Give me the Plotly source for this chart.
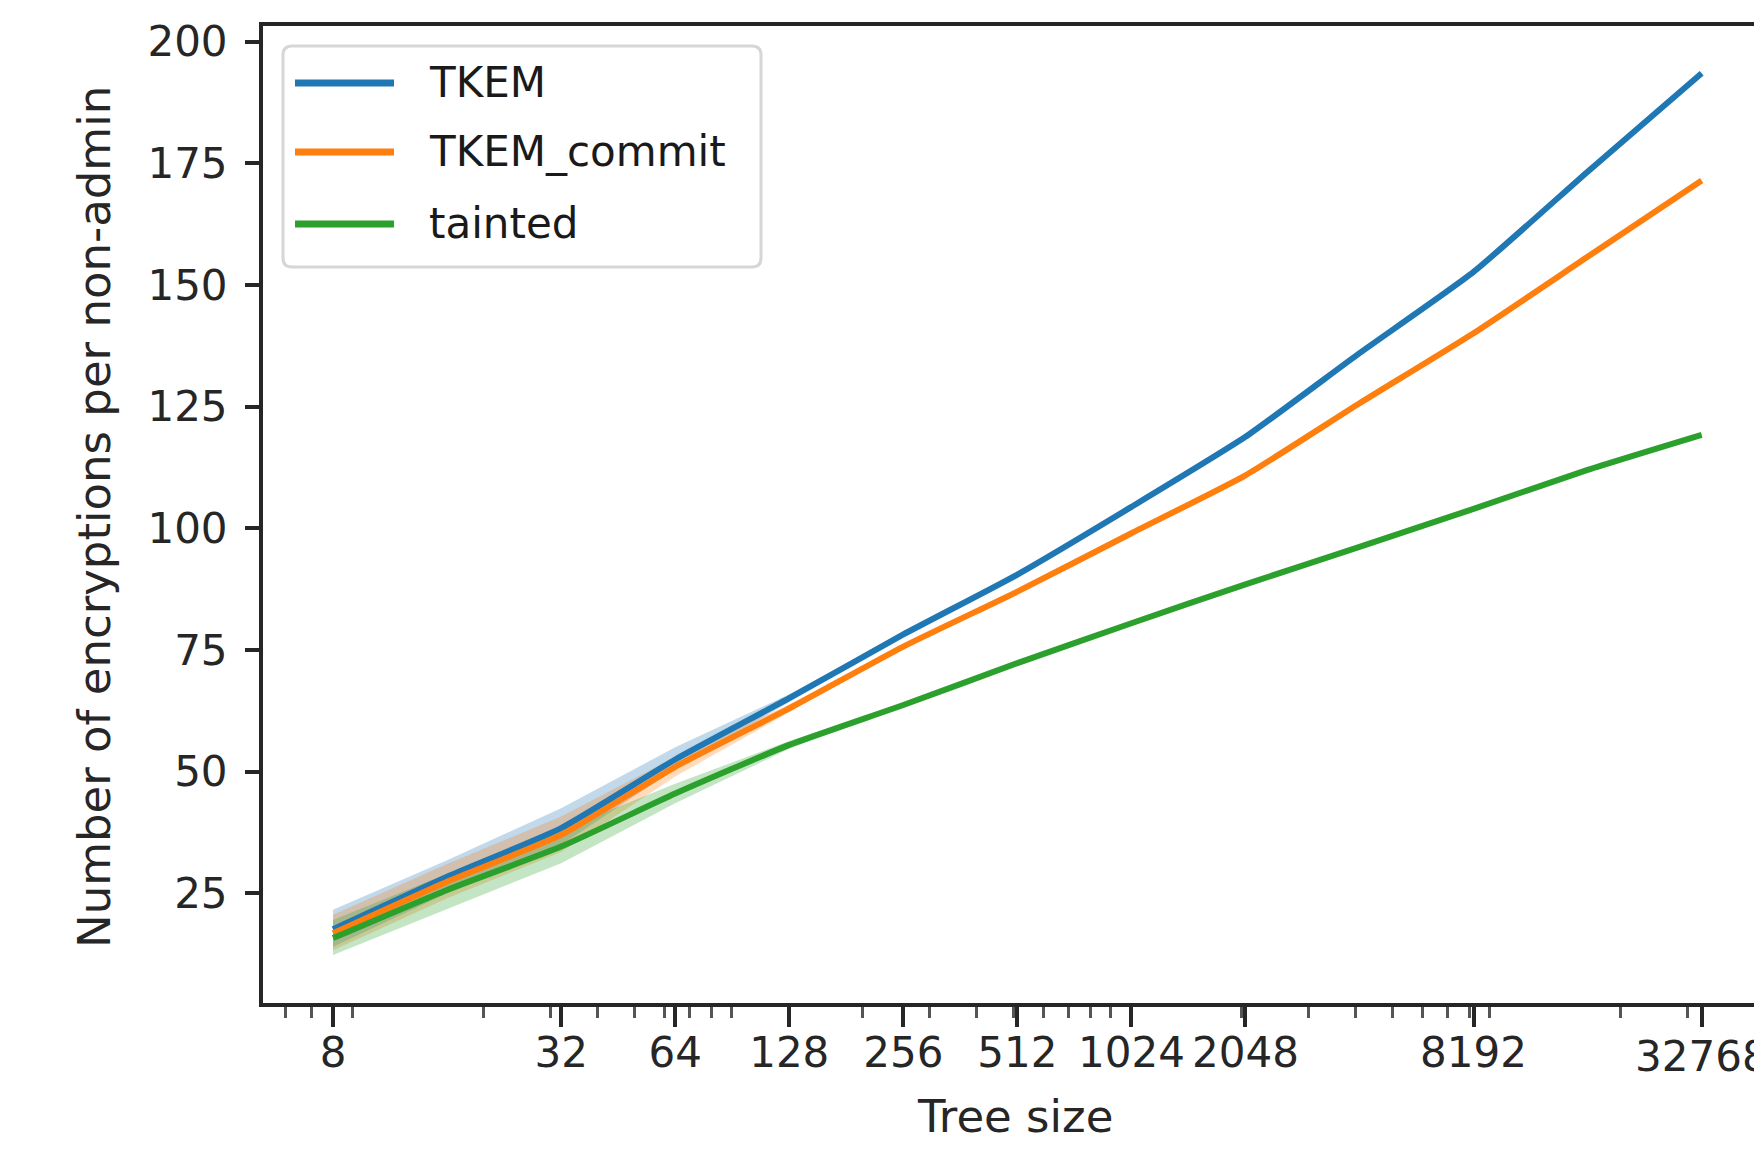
import math
import plotly.graph_objects as go

# ---------------- data ----------------
tree_sizes = [8, 16, 32, 64, 128, 256, 512, 1024, 2048, 4096, 8192, 16384, 32768]

series_names = ["TKEM", "TKEM_commit", "tainted"]

tkem = [17.6, 28.4, 38.4, 52.5, 65.1, 78.2, 90.5, 104.4, 118.8, 136.0, 152.7, 173.3, 193.5]
tkem_lo = [14.0, 25.0, 35.0, 50.5, 64.3, 77.9, 90.2, 104.2, 118.6, 135.8, 152.5, 173.1, 193.3]
tkem_hi = [21.6, 31.8, 42.5, 55.0, 65.9, 78.5, 90.8, 104.6, 119.0, 136.2, 152.9, 173.5, 193.7]

tkem_commit = [16.8, 27.4, 37.0, 51.0, 63.0, 75.7, 87.0, 99.0, 110.9, 125.7, 140.1, 155.8, 171.5]
tkem_commit_lo = [13.3, 24.0, 33.5, 49.0, 62.2, 75.4, 86.7, 98.8, 110.7, 125.5, 139.9, 155.6, 171.3]
tkem_commit_hi = [20.6, 31.0, 40.8, 53.0, 63.8, 76.0, 87.3, 99.2, 111.1, 125.9, 140.3, 156.0, 171.7]

tainted = [15.8, 25.7, 34.6, 45.5, 55.5, 63.7, 72.3, 80.5, 88.5, 96.2, 104.0, 112.0, 119.2]
tainted_lo = [12.3, 21.8, 31.2, 43.5, 54.7, 63.4, 72.0, 80.3, 88.3, 96.0, 103.8, 111.8, 119.0]
tainted_hi = [19.5, 29.0, 38.0, 47.5, 56.3, 64.0, 72.6, 80.7, 88.7, 96.4, 104.2, 112.2, 119.4]

x_tick_values = [8, 32, 64, 128, 256, 512, 1024, 2048, 8192, 32768]
x_minor_values = [6, 7, 9, 20, 30, 40, 50, 60, 70, 80, 90,
                  200, 300, 400, 500, 600, 700, 800, 900,
                  2000, 3000, 4000, 5000, 6000, 7000, 8000, 9000,
                  20000, 30000]
y_tick_values = [25, 50, 75, 100, 125, 150, 175, 200]

x_title = "Tree size"
y_title = "Number of encryptions per non-admin"

colors = ["#1f77b4", "#ff7f0e", "#2ca02c"]
band_colors = ["rgba(31,119,180,0.28)", "rgba(255,127,14,0.28)", "rgba(44,160,44,0.28)"]

means = [tkem, tkem_commit, tainted]
lows = [tkem_lo, tkem_commit_lo, tainted_lo]
highs = [tkem_hi, tkem_commit_hi, tainted_hi]

# ---------------- figure ----------------
OFF = 8                      # default body margin of the written page
W, H = 1762 - OFF, 1155 - OFF
ML, MR, MT, MB = 255, 0, 18, 152
PW, PH = W - ML - MR, H - MT - MB

def px_x(xp):                # page pixel -> paper x
    return (xp - OFF - ML) / PW

def px_y(yp):                # page pixel -> paper y
    return (H - MB - (yp - OFF)) / PH

FONT = "DejaVu Sans"
FS = 42
INK = "#262626"

fig = go.Figure()

# confidence bands
for i in range(3):
    fig.add_trace(go.Scatter(x=tree_sizes, y=highs[i], mode="lines",
                             line=dict(width=0, color=colors[i]),
                             showlegend=False, hoverinfo="skip"))
    fig.add_trace(go.Scatter(x=tree_sizes, y=lows[i], mode="lines",
                             line=dict(width=0, color=colors[i]),
                             fill="tonexty", fillcolor=band_colors[i],
                             showlegend=False, hoverinfo="skip"))

# mean lines
for i in range(3):
    fig.add_trace(go.Scatter(x=tree_sizes, y=means[i], mode="lines",
                             name=series_names[i],
                             line=dict(width=6, color=colors[i], shape="spline", smoothing=0.5),
                             showlegend=False))

log2_lo, log2_hi = 2.386, 15.529
fig.update_xaxes(
    type="log",
    range=[log2_lo * math.log10(2), log2_hi * math.log10(2)],
    tickmode="array", tickvals=x_tick_values, ticktext=[str(v) for v in x_tick_values],
    ticks="outside", ticklen=20, tickwidth=4, tickcolor=INK,
    ticklabelstandoff=-10,
    showline=True, linewidth=4, linecolor=INK, mirror=True,
    showgrid=False, zeroline=False,
    tickfont=dict(family=FONT, size=FS, color=INK),
    minor=dict(tickmode="array", tickvals=x_minor_values, ticks="outside",
               ticklen=11, tickwidth=3, tickcolor="#555555", showgrid=False),
)
fig.update_yaxes(
    range=[2.46, 203.23],
    tickmode="array", tickvals=y_tick_values, ticktext=[str(v) for v in y_tick_values],
    ticks="outside", ticklen=14, tickwidth=4, tickcolor=INK,
    ticklabelstandoff=9,
    showline=True, linewidth=4, linecolor=INK, mirror=False,
    showgrid=False, zeroline=False,
    tickfont=dict(family=FONT, size=FS, color=INK),
)

annotations = [
    dict(text=x_title, xref="paper", yref="paper", x=px_x(1015), y=px_y(1116),
         xanchor="center", yanchor="middle", showarrow=False,
         font=dict(family=FONT, size=45, color=INK)),
    dict(text=y_title, xref="paper", yref="paper", x=px_x(95), y=px_y(517),
         xanchor="center", yanchor="middle", textangle=-90, showarrow=False,
         font=dict(family=FONT, size=45, color=INK)),
    # last tick label, partly cut at the right edge as in the reference
    dict(text=str(x_tick_values[-1]), xref="x", yref="paper",
         x=math.log10(x_tick_values[-1]), y=px_y(1056),
         xanchor="center", yanchor="middle", showarrow=False,
         font=dict(family=FONT, size=FS, color=INK)),
]

# custom legend (matplotlib style)
bx0, bx1, by0, by1 = 283, 761, 46, 267
r = 9
rx, ry = r / PW, r / PH
X0, X1, Y0, Y1 = px_x(bx0), px_x(bx1), px_y(by1), px_y(by0)
path = (f"M {X0+rx},{Y1} L {X1-rx},{Y1} Q {X1},{Y1} {X1},{Y1-ry} "
        f"L {X1},{Y0+ry} Q {X1},{Y0} {X1-rx},{Y0} L {X0+rx},{Y0} "
        f"Q {X0},{Y0} {X0},{Y0+ry} L {X0},{Y1-ry} Q {X0},{Y1} {X0+rx},{Y1} Z")
shapes = [dict(type="path", xref="paper", yref="paper", path=path,
               line=dict(color="#d6d6d6", width=3), fillcolor="rgba(255,255,255,0.8)",
               layer="above")]
rows = [83, 152, 224]
for i in range(3):
    shapes.append(dict(type="line", xref="paper", yref="paper",
                       x0=px_x(295), x1=px_x(394), y0=px_y(rows[i]), y1=px_y(rows[i]),
                       line=dict(color=colors[i], width=7), layer="above"))
    annotations.append(dict(text=series_names[i], xref="paper", yref="paper",
                            x=px_x(427), y=px_y(rows[i] - 1), xanchor="left", yanchor="middle",
                            showarrow=False, font=dict(family=FONT, size=FS, color="#1a1a1a")))

fig.update_layout(
    width=W, height=H,
    margin=dict(l=ML, r=MR, t=MT, b=MB, pad=0),
    paper_bgcolor="white", plot_bgcolor="white",
    showlegend=False,
    annotations=annotations, shapes=shapes,
    font=dict(family=FONT, size=FS, color=INK),
)

fig.write_html("out.html")
